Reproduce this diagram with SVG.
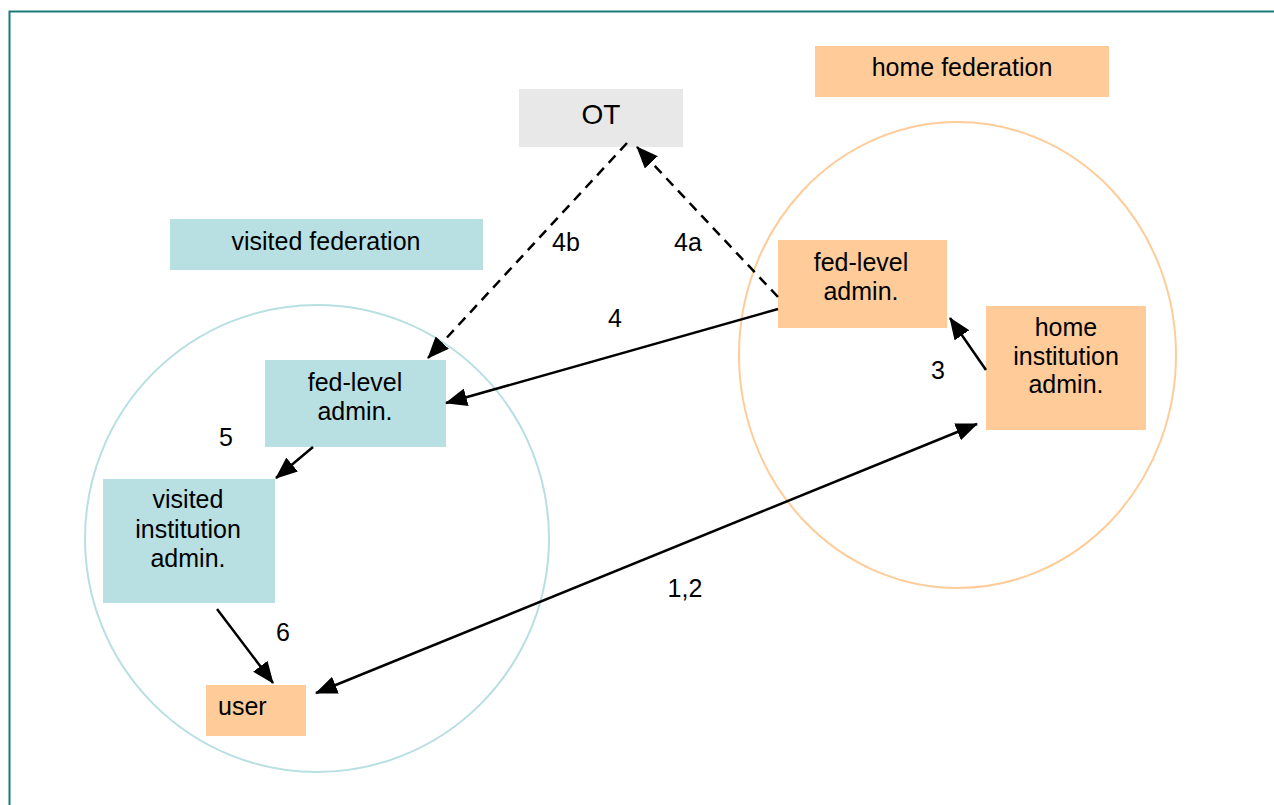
<svg xmlns="http://www.w3.org/2000/svg" width="1274" height="805" viewBox="0 0 1274 805">
<style>
.t{font-family:"Liberation Sans",Arial,sans-serif;font-size:25px;fill:#000}
.c{text-anchor:middle}
.peach{fill:#ffcc99}
.blue{fill:#b8dfe2}
.gray{fill:#e8e8e8}
.ln{stroke:#000;stroke-width:2.5;fill:none}
.dash{stroke-dasharray:10 7}
</style>
<defs>
<marker id="ah" viewBox="0 0 22 18" refX="21" refY="9" markerWidth="22" markerHeight="18" markerUnits="userSpaceOnUse" orient="auto-start-reverse">
<path d="M0,0 L22,9 L0,18 Z" fill="#000"/>
</marker>
</defs>
<rect width="1274" height="805" fill="#fff"/>
<path d="M9.5,805 V11.5 H1274" fill="none" stroke="#1b7a78" stroke-width="2"/>
<g id="circles">
<ellipse id="visited-circle" cx="317" cy="538.5" rx="232" ry="233.5" fill="none" stroke="#b8dfe2" stroke-width="2"/>
<ellipse id="home-circle" cx="957.5" cy="355" rx="218.5" ry="233" fill="none" stroke="#ffcc99" stroke-width="2"/>
</g>
<g id="home-federation"><rect class="peach" x="815" y="46" width="294" height="51"/><text class="t c" x="962" y="76">home federation</text></g>
<g id="visited-federation"><rect class="blue" x="170" y="219" width="313" height="51"/><text class="t c" x="326" y="250">visited federation</text></g>
<g id="ot"><rect class="gray" x="519" y="89" width="164" height="58"/><text class="t c" x="601" y="124" style="font-size:28px">OT</text></g>
<g id="home-fed-admin"><rect class="peach" x="778" y="240" width="169" height="88"/><text class="t c" x="861" y="271">fed-level</text><text class="t c" x="861" y="300">admin.</text></g>
<g id="home-inst-admin"><rect class="peach" x="986" y="306" width="160" height="124"/><text class="t c" x="1066" y="336">home</text><text class="t c" x="1066" y="365">institution</text><text class="t c" x="1066" y="393">admin.</text></g>
<g id="visited-fed-admin"><rect class="blue" x="265" y="360" width="181" height="87"/><text class="t c" x="355" y="391">fed-level</text><text class="t c" x="355" y="420">admin.</text></g>
<g id="visited-inst-admin"><rect class="blue" x="103" y="479" width="172" height="124"/><text class="t c" x="188" y="508">visited</text><text class="t c" x="188" y="538">institution</text><text class="t c" x="188" y="567">admin.</text></g>
<g id="user"><rect class="peach" x="206" y="685" width="100" height="51"/><text class="t" x="218" y="715">user</text></g>
<g id="connectors">
<line class="ln dash" x1="627" y1="143" x2="428" y2="358" marker-end="url(#ah)"/>
<line class="ln dash" x1="778" y1="297" x2="637" y2="147" marker-end="url(#ah)"/>
<line class="ln" x1="778" y1="309" x2="446" y2="403" marker-end="url(#ah)"/>
<line class="ln" x1="986" y1="370" x2="950" y2="318" marker-end="url(#ah)"/>
<line class="ln" x1="313" y1="447" x2="276" y2="478" marker-end="url(#ah)"/>
<line class="ln" x1="217" y1="609" x2="273" y2="683" marker-end="url(#ah)"/>
<line class="ln" x1="316" y1="693" x2="977" y2="424" marker-start="url(#ah)" marker-end="url(#ah)"/>
</g>
<g id="labels">
<text class="t c" x="566" y="251">4b</text>
<text class="t c" x="688" y="251">4a</text>
<text class="t c" x="615" y="327">4</text>
<text class="t c" x="938" y="379">3</text>
<text class="t c" x="226" y="446">5</text>
<text class="t c" x="283" y="641">6</text>
<text class="t c" x="685" y="597">1,2</text>
</g>
</svg>
